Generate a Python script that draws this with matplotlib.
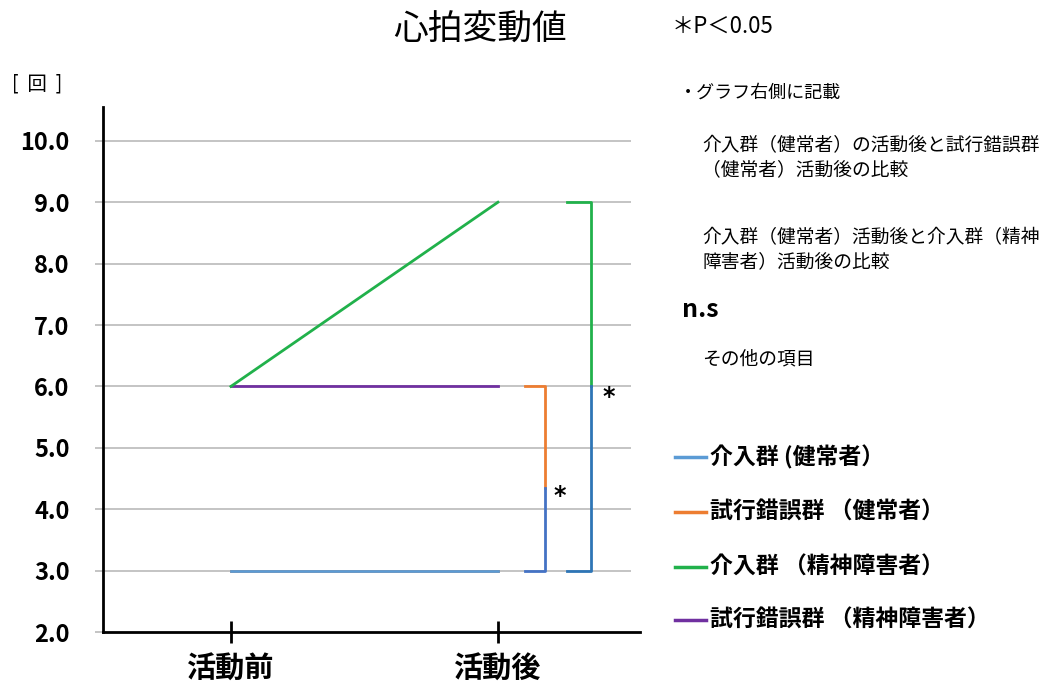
import matplotlib.pyplot as plt

plt.rcParams['font.family'] = ['Noto Sans CJK JP', 'DejaVu Sans']

# データ
categories = ['活動前', '活動後']
series_names = ['介入群 (健常者）', '試行錯誤群 （健常者）', '介入群 （精神障害者）', '試行錯誤群 （精神障害者）']
series_values = [
    [3.0, 3.0],   # 介入群(健常者)
    [3.0, 3.0],   # 試行錯誤群(健常者) - 介入群(健常者)と重なる
    [6.0, 9.0],   # 介入群(精神障害者)
    [6.0, 6.0],   # 試行錯誤群(精神障害者)
]
colors = ['#5B9BD5', '#ED7D31', '#21B14B', '#7030A0']
yticks = [2.0, 3.0, 4.0, 5.0, 6.0, 7.0, 8.0, 9.0, 10.0]

# 有意差のブラケット (上の値, 下の値, 色の切り替え点)
bracket1 = [6.0, 3.0, 4.35]
bracket2 = [9.0, 3.0, 6.0]

fig = plt.figure(figsize=(10.53, 6.84), dpi=100)
ax = fig.add_axes([0.0978, 0.076, 0.5100, 0.7675])

x = list(range(len(categories)))
order = [1, 0, 3, 2]
for i in order:
    ax.plot(x, series_values[i], color=colors[i], lw=2, zorder=3)

# ブラケット1: 試行錯誤群(健常者) vs 介入群(健常者)
x0, x1 = 1.10, 1.176
ax.plot([x0, x1, x1], [bracket1[0], bracket1[0], bracket1[2]], color='#ED7D31', lw=2, zorder=3)
ax.plot([x1, x1, x0], [bracket1[2], bracket1[1], bracket1[1]], color='#4472C4', lw=2, zorder=3)
ax.text(x1 + 0.055, bracket1[2] - 0.13, '*', fontsize=17, fontweight='bold',
        ha='center', va='center', family='DejaVu Sans')

# ブラケット2: 介入群(精神障害者) vs 介入群(健常者)
x0, x1 = 1.258, 1.348
ax.plot([x0, x1, x1], [bracket2[0], bracket2[0], bracket2[2]], color='#21B14B', lw=2, zorder=3)
ax.plot([x1, x1, x0], [bracket2[2], bracket2[1], bracket2[1]], color='#2E75B6', lw=2, zorder=3)
ax.text(x1 + 0.067, bracket2[2] - 0.18, '*', fontsize=17, fontweight='bold',
        ha='center', va='center', family='DejaVu Sans')

ax.set_xlim(-0.479, 1.532)
ax.set_ylim(2.0, 10.55)
ax.set_yticks(yticks)
ax.set_yticklabels([f'{v:.1f}' for v in yticks], fontsize=17, fontweight='bold')
ax.set_xticks(x)
ax.set_xticklabels(categories, fontsize=21, fontweight='bold')
for y in yticks[1:]:
    ax.hlines(y, -0.479, 1.50, color='#BFBFBF', lw=1.3, zorder=1)

ax.tick_params(axis='y', direction='out', length=6, color='#BFBFBF', width=1.3, pad=18)
ax.tick_params(axis='x', direction='inout', length=16, color='black', width=2, pad=8)
for s in ['top', 'right']:
    ax.spines[s].set_visible(False)
for s in ['left', 'bottom']:
    ax.spines[s].set_linewidth(2)

fig.text(0.456, 0.956, '心拍変動値', fontsize=25, ha='center', va='center')
fig.text(0.011, 0.877, '[  回  ]', fontsize=14, ha='left', va='center')

# 右側の注記
fig.text(0.638, 0.962, '＊P＜0.05', fontsize=16, ha='left', va='center')
fig.text(0.645, 0.864, '・グラフ右側に記載', fontsize=13, ha='left', va='center')
fig.text(0.667, 0.769, '介入群（健常者）の活動後と試行錯誤群\n（健常者）活動後の比較',
         fontsize=13.5, ha='left', va='center', linespacing=1.2)
fig.text(0.667, 0.635, '介入群（健常者）活動後と介入群（精神\n障害者）活動後の比較',
         fontsize=13.5, ha='left', va='center', linespacing=1.2)
fig.text(0.648, 0.547, 'n.s', fontsize=18, fontweight='bold', ha='left', va='center')
fig.text(0.667, 0.475, 'その他の項目', fontsize=13.5, ha='left', va='center')

# 凡例
leg_y = [0.332, 0.251, 0.171, 0.094]
for name, c, ly in zip(series_names, colors, leg_y):
    fig.add_artist(plt.Line2D([0.641, 0.670], [ly, ly], color=c, lw=2.5, transform=fig.transFigure))
    fig.text(0.674, ly, name, fontsize=16.5, fontweight='bold', ha='left', va='center')

fig.savefig('out.png', dpi=100)
